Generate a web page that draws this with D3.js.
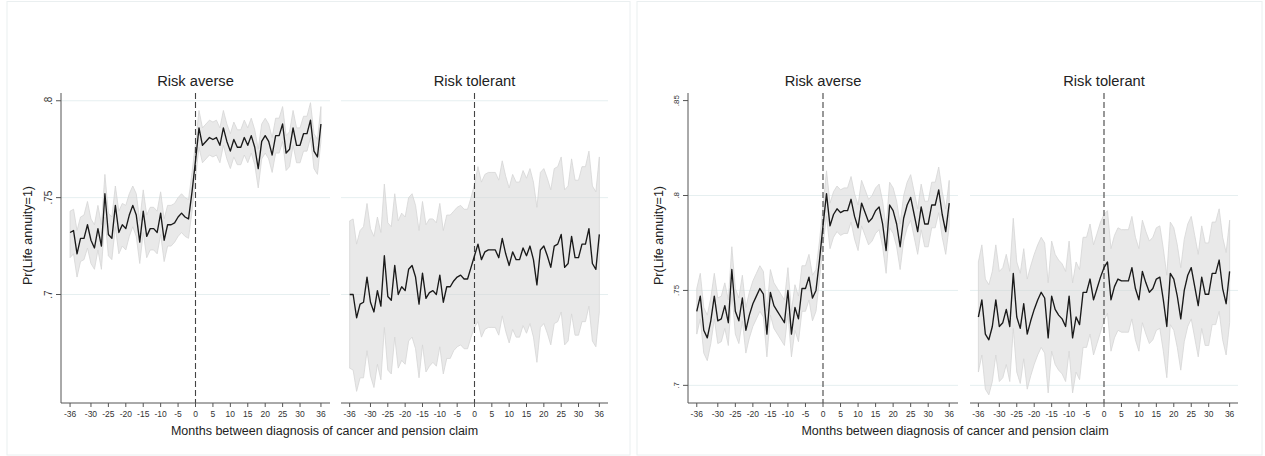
<!DOCTYPE html>
<html>
<head>
<meta charset="utf-8">
<script src="https://cdn.jsdelivr.net/npm/d3@7"></script>
<style>
  body { margin: 0; background: #fff; }
  text { font-family: "Liberation Sans", Arial, sans-serif; fill: #222; }
</style>
</head>
<body>
<div id="chart-container"></div>
<script>
// Months relative to diagnosis (-36 .. 36)
const months = d3.range(-36, 37);
const xTicks = [-36, -30, -25, -20, -15, -10, -5, 0, 5, 10, 15, 20, 25, 30, 36];
const yTicksLeft = [0.7, 0.75, 0.8];
const yTicksRight = [0.7, 0.75, 0.8, 0.85];
const panelTitles = ["Risk averse", "Risk tolerant"];
const xTitle = "Months between diagnosis of cancer and pension claim";
const yTitle = "Pr(Life annuity=1)";

// Figure 1 - risk averse
const avMean1 = [.732,.733,.721,.729,.729,.736,.728,.724,.734,.725,.752,.731,.729,.746,.732,.736,.734,.741,.746,.741,.727,.743,.730,.734,.734,.732,.742,.728,.736,.736,.737,.740,.742,.740,.739,.753, .769, .786,.777,.779,.781,.780,.781,.777,.786,.779,.774,.780,.776,.776,.781,.777,.782,.776,.765,.779,.782,.779,.772,.782,.782,.788,.773,.775,.786,.777,.777,.783,.783,.790,.774,.771,.788];
const avHi1 = [.743,.744,.733,.740,.741,.748,.739,.736,.746,.736,.762,.742,.740,.756,.743,.747,.746,.752,.756,.752,.738,.754,.741,.745,.745,.743,.753,.739,.746,.746,.747,.750,.752,.750,.749,.763, .778, .795,.786,.788,.790,.789,.790,.786,.795,.788,.783,.789,.785,.785,.790,.786,.791,.785,.775,.788,.791,.788,.781,.791,.791,.797,.782,.784,.795,.786,.786,.792,.792,.799,.783,.780,.797];
const avLo1 = [.719,.721,.709,.717,.718,.724,.716,.713,.723,.713,.740,.720,.718,.735,.721,.725,.723,.730,.735,.730,.716,.732,.719,.723,.723,.721,.731,.717,.725,.725,.727,.730,.732,.730,.729,.743, .760, .776,.768,.770,.772,.771,.772,.768,.777,.770,.765,.771,.767,.767,.772,.768,.773,.767,.755,.770,.773,.770,.763,.773,.773,.779,.764,.766,.777,.768,.768,.774,.774,.781,.765,.762,.779];
// Figure 1 - risk tolerant
const tolMean1 = [.700,.700,.688,.695,.696,.709,.696,.691,.702,.694,.720,.699,.697,.715,.700,.704,.702,.713,.715,.709,.695,.711,.698,.701,.702,.700,.710,.696,.704,.704,.707,.709,.710,.708,.708,.714, .720, .726,.718,.722,.723,.723,.723,.719,.729,.721,.715,.722,.718,.718,.724,.720,.725,.718,.705,.723,.725,.720,.714,.725,.726,.731,.714,.716,.730,.719,.719,.726,.726,.734,.716,.713,.731];
const tolHi1 = [.738,.739,.726,.733,.735,.747,.734,.730,.740,.732,.757,.737,.735,.752,.738,.742,.740,.750,.752,.746,.733,.748,.736,.739,.739,.737,.747,.733,.741,.741,.743,.745,.746,.744,.744,.750, .757, .766,.758,.762,.763,.763,.763,.759,.769,.761,.755,.762,.758,.758,.764,.760,.765,.758,.745,.763,.765,.760,.754,.765,.766,.771,.754,.756,.770,.759,.759,.766,.766,.774,.756,.753,.771];
const tolLo1 = [.662,.661,.650,.657,.657,.671,.658,.652,.664,.656,.683,.661,.659,.678,.662,.666,.664,.676,.678,.672,.657,.674,.660,.663,.665,.663,.673,.659,.667,.667,.671,.673,.674,.672,.672,.678, .683, .686,.678,.682,.683,.683,.683,.679,.689,.681,.675,.682,.678,.678,.684,.680,.685,.678,.665,.683,.685,.680,.674,.685,.686,.691,.674,.676,.690,.679,.679,.686,.686,.694,.676,.673,.691];

// Figure 2 - risk averse
const avMean2 = [.739,.747,.729,.725,.734,.747,.734,.735,.742,.733,.761,.739,.734,.746,.729,.737,.743,.747,.751,.748,.727,.749,.742,.739,.736,.733,.750,.727,.741,.735,.751,.751,.757,.746,.750,.766, .784, .801,.784,.790,.793,.791,.792,.792,.798,.789,.783,.796,.791,.786,.788,.792,.794,.785,.771,.795,.792,.785,.773,.788,.795,.799,.790,.781,.794,.785,.785,.795,.795,.803,.790,.781,.796];
const avHi2 = [.751,.759,.741,.737,.746,.759,.746,.747,.754,.745,.773,.751,.746,.758,.741,.749,.755,.759,.763,.760,.739,.761,.754,.751,.748,.745,.762,.739,.753,.747,.763,.763,.769,.758,.761,.776, .794, .813,.796,.802,.805,.803,.804,.804,.810,.801,.795,.808,.803,.798,.800,.804,.806,.797,.783,.807,.804,.797,.785,.800,.807,.811,.802,.793,.806,.797,.797,.807,.807,.815,.802,.793,.808];
const avLo2 = [.727,.735,.717,.713,.722,.735,.722,.723,.730,.721,.749,.727,.722,.734,.717,.725,.731,.735,.739,.736,.715,.737,.730,.727,.724,.721,.738,.715,.729,.723,.739,.739,.745,.734,.739,.756, .774, .789,.772,.778,.781,.779,.780,.780,.786,.777,.771,.784,.779,.774,.776,.780,.782,.773,.759,.783,.780,.773,.761,.776,.783,.787,.778,.769,.782,.773,.773,.783,.783,.791,.778,.769,.784];
// Figure 2 - risk tolerant
const tolMean2 = [.736,.745,.727,.724,.731,.745,.731,.733,.740,.731,.759,.736,.730,.743,.727,.734,.740,.745,.749,.746,.725,.747,.740,.737,.735,.731,.747,.725,.736,.732,.749,.749,.756,.745,.751,.757, .762, .765,.745,.752,.756,.755,.755,.755,.762,.751,.745,.760,.754,.749,.751,.756,.757,.745,.731,.759,.756,.747,.735,.750,.758,.762,.752,.742,.757,.748,.748,.759,.759,.766,.751,.743,.760];
const tolHi2 = [.765,.774,.756,.753,.760,.774,.760,.762,.769,.760,.788,.765,.759,.772,.756,.763,.769,.774,.778,.775,.754,.776,.769,.766,.764,.760,.776,.754,.765,.761,.778,.778,.785,.774,.780,.786, .790, .792,.772,.779,.783,.782,.782,.782,.789,.778,.772,.787,.781,.776,.778,.783,.784,.772,.758,.786,.783,.774,.762,.777,.785,.789,.779,.769,.784,.775,.775,.786,.786,.793,.778,.770,.787];
const tolLo2 = [.707,.716,.698,.695,.702,.716,.702,.704,.711,.702,.730,.707,.701,.714,.698,.705,.711,.716,.720,.717,.696,.718,.711,.708,.706,.702,.718,.696,.707,.703,.720,.720,.727,.716,.722,.728, .734, .738,.718,.725,.729,.728,.728,.728,.735,.724,.718,.733,.727,.722,.724,.729,.730,.718,.704,.732,.729,.720,.708,.723,.731,.735,.725,.715,.730,.721,.721,.732,.732,.739,.724,.716,.733];

// Layout of the two figures
const plotTop = 93, plotBottom = 403;
const figures = [
  { frame: [7, 1.5, 623, 453.5], yDomain: [0.644, 0.804], yTicks: yTicksLeft, grid: [0.7, 0.75, 0.8],
    yTickFont: 10, yTickX: 51.5, yTitleX: 31.5, xTitleX: 324.5,
    panels: [
      { x0: 61, x1: 330, xDom: [-38.6, 38.6], mean: avMean1, hi: avHi1, lo: avLo1 },
      { x0: 341, x1: 608, xDom: [-38.5, 38.5], mean: tolMean1, hi: tolHi1, lo: tolLo1 }
    ] },
  { frame: [637, 1.5, 625, 453.5], yDomain: [0.6907, 0.854], yTicks: yTicksRight, grid: [0.7, 0.75, 0.8],
    yTickFont: 8, yTickX: 678.5, yTitleX: 662.5, xTitleX: 955,
    panels: [
      { x0: 688, x1: 958, xDom: [-38.5, 38.5], mean: avMean2, hi: avHi2, lo: avLo2 },
      { x0: 970, x1: 1238, xDom: [-38.4, 38.4], mean: tolMean2, hi: tolHi2, lo: tolLo2 }
    ] }
];

const svg = d3.select("#chart-container").append("svg")
  .attr("width", 1265).attr("height", 456);

const fmtTick = d => String(d).replace(/^0/, "");

figures.forEach(fig => {
  const g = svg.append("g");

  // Frame
  g.append("rect")
    .attr("x", fig.frame[0]).attr("y", fig.frame[1])
    .attr("width", fig.frame[2]).attr("height", fig.frame[3])
    .attr("fill", "#fff").attr("stroke", "#eaeff0").attr("stroke-width", 1);

  const y = d3.scaleLinear().domain(fig.yDomain).range([plotBottom, plotTop]);

  fig.panels.forEach((p, pi) => {
    const x = d3.scaleLinear().domain(p.xDom).range([p.x0, p.x1]);
    const pg = g.append("g");

    // Grid lines
    pg.selectAll(".grid").data(fig.grid).join("line")
      .attr("x1", p.x0).attr("x2", p.x1)
      .attr("y1", d => y(d)).attr("y2", d => y(d))
      .attr("stroke", "#e6eff0").attr("stroke-width", 1);

    // Confidence band
    const area = d3.area()
      .x((d, i) => x(months[i]))
      .y0((d, i) => y(p.lo[i]))
      .y1((d, i) => y(p.hi[i]));
    pg.append("path").datum(p.mean)
      .attr("d", area)
      .attr("fill", "#d4d4d4").attr("fill-opacity", 0.5)
      .attr("stroke", "#d6d6d6").attr("stroke-width", 0.8);

    // Zero line
    pg.append("line")
      .attr("x1", x(0)).attr("x2", x(0))
      .attr("y1", plotTop).attr("y2", plotBottom)
      .attr("stroke", "#444").attr("stroke-width", 1.1)
      .attr("stroke-dasharray", "6,3");

    // Mean line
    const line = d3.line().x((d, i) => x(months[i])).y(d => y(d));
    pg.append("path").datum(p.mean)
      .attr("d", line)
      .attr("fill", "none").attr("stroke", "#1a1a1a").attr("stroke-width", 1.35)
      .attr("stroke-linejoin", "round");

    // X axis
    pg.append("line")
      .attr("x1", p.x0).attr("x2", p.x1).attr("y1", plotBottom).attr("y2", plotBottom)
      .attr("stroke", "#555").attr("stroke-width", 1);
    pg.selectAll(".xt").data(xTicks).join("line")
      .attr("x1", d => x(d)).attr("x2", d => x(d))
      .attr("y1", plotBottom).attr("y2", plotBottom + 4)
      .attr("stroke", "#555");
    pg.selectAll(".xl").data(xTicks).join("text")
      .text(d => d)
      .attr("x", d => x(d)).attr("y", plotBottom + 14)
      .attr("text-anchor", "middle")
      .style("font-size", "8.5px").style("fill", "#333");

    // Panel title
    pg.append("text").text(panelTitles[pi])
      .attr("x", (p.x0 + p.x1) / 2).attr("y", 86)
      .attr("text-anchor", "middle")
      .style("font-size", "14.7px");
  });

  // Y axis (left panel only)
  const ax = fig.panels[0].x0;
  g.append("line")
    .attr("x1", ax).attr("x2", ax).attr("y1", plotTop).attr("y2", plotBottom)
    .attr("stroke", "#555");
  g.selectAll(".yt").data(fig.yTicks).join("line")
    .attr("x1", ax - 5).attr("x2", ax)
    .attr("y1", d => y(d)).attr("y2", d => y(d))
    .attr("stroke", "#555");
  g.selectAll(".yl").data(fig.yTicks).join("text")
    .text(fmtTick)
    .attr("transform", d => `translate(${fig.yTickX},${y(d)}) rotate(-90)`)
    .attr("text-anchor", "middle")
    .style("font-size", fig.yTickFont + "px").style("fill", "#333");

  // Axis titles
  g.append("text").text(yTitle)
    .attr("transform", `translate(${fig.yTitleX},235.5) rotate(-90)`)
    .attr("text-anchor", "middle")
    .style("font-size", "12.5px");
  g.append("text").text(xTitle)
    .attr("x", fig.xTitleX).attr("y", 435)
    .attr("text-anchor", "middle")
    .style("font-size", "12.5px");
});
</script>
</body>
</html>
